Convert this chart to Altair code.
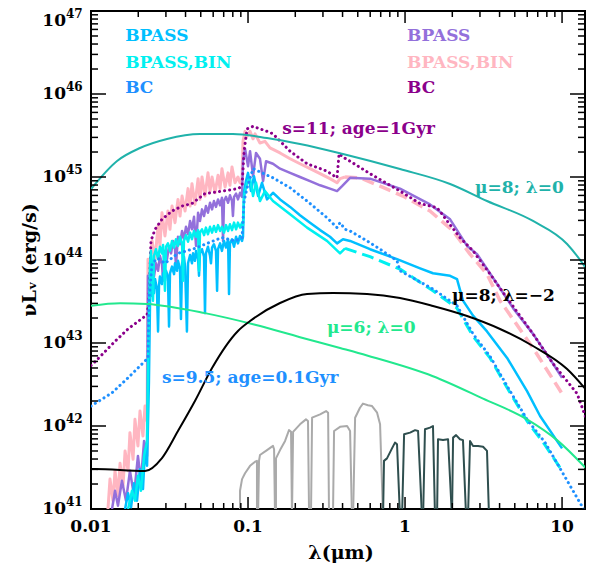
import altair as alt
import pandas as pd
import numpy as np

# ---------------- data: log10(lambda/um) and log10(nuLnu / erg s^-1) ----------------
# model curves
teal_loglam = [-2.0, -1.834, -1.688, -1.516, -1.306, -1.096, -0.879, -0.669, -0.395, -0.032, 0.287, 0.522, 0.815, 1.032, 1.134, 1.197]
teal_logL = [44.855, 45.193, 45.349, 45.458, 45.518, 45.518, 45.470, 45.398, 45.277, 45.096, 44.916, 44.711, 44.470, 44.193, 43.95, 43.771]

green_loglam = [-2.0, -1.815, -1.643, -1.274, -0.955, -0.669, -0.414, -0.242, 0.178, 0.497, 0.777, 0.968, 1.197]
green_logL = [43.45, 43.48, 43.47, 43.36, 43.22, 43.07, 42.94, 42.85, 42.60, 42.33, 42.08, 41.83, 41.40]

black_loglam = [-2.0, -1.975, -1.656, -1.548, -1.446, -1.338, -1.229, -1.064, -0.987, -0.796, -0.624, -0.459, -0.242, -0.032, 0.178, 0.395, 0.605, 0.815, 1.032, 1.197]
black_logL = [41.482, 41.482, 41.458, 41.614, 41.940, 42.301, 42.699, 43.145, 43.265, 43.482, 43.590, 43.602, 43.590, 43.542, 43.446, 43.325, 43.169, 42.964, 42.687, 42.337]

# s=11; age=1Gyr  -- BPASS,BIN (pink)
pink_loglam = [-1.892, -1.879, -1.860, -1.847, -1.828, -1.815, -1.796, -1.783, -1.764, -1.752, -1.732, -1.720, -1.701, -1.688, -1.669, -1.656, -1.643,
               -1.637, -1.624, -1.611, -1.592, -1.573, -1.561, -1.548, -1.529, -1.510, -1.497, -1.484, -1.465, -1.446, -1.433, -1.420, -1.401,
               -1.382, -1.369, -1.357, -1.338, -1.318, -1.306, -1.293, -1.274, -1.255, -1.242, -1.229, -1.210, -1.191, -1.178, -1.166, -1.146,
               -1.127, -1.115, -1.102, -1.083, -1.064, -1.051, -1.038, -1.032, -1.019, -1.006, -0.987, -0.968, -0.955, -0.924, -0.892, -0.860,
               -0.796, -0.732, -0.669, -0.605, -0.541, -0.478, -0.433, -0.414, -0.382, -0.287, -0.159, -0.013, 0.159, 0.306, 0.414, 0.522,
               0.605, 0.815, 1.0]
pink_logL = [41.00, 41.36, 41.10, 41.46, 41.16, 41.55, 41.28, 41.70, 41.46, 41.92, 41.60, 42.08, 41.76, 42.18, 41.88, 42.24, 42.06,
             44.01, 43.93, 44.23, 44.01, 44.41, 44.17, 44.57, 44.29, 44.59, 44.37, 44.65, 44.45, 44.73, 44.53, 44.77, 44.59,
             44.86, 44.65, 44.92, 44.67, 44.98, 44.73, 45.00, 44.77, 45.05, 44.83, 45.00, 44.81, 45.02, 44.86, 45.10, 44.88,
             45.05, 44.90, 45.12, 44.93, 45.00, 44.93, 44.98, 45.43, 45.55, 45.49, 45.55, 45.46, 45.52, 45.41, 45.43, 45.35,
             45.29, 45.22, 45.16, 45.10, 45.04, 44.98, 44.93, 44.98, 45.00, 44.99, 44.89, 44.77, 44.59, 44.35, 44.07, 43.83,
             43.51, 42.94, 42.39]

# s=11; age=1Gyr  -- BPASS (mediumpurple)
mpur_loglam = [-1.866, -1.847, -1.828, -1.803, -1.777, -1.752, -1.726, -1.701, -1.682, -1.662, -1.643,
               -1.637, -1.624, -1.611, -1.599, -1.586, -1.573, -1.561, -1.548, -1.541, -1.529,
               -1.516, -1.503, -1.490, -1.478, -1.465, -1.459, -1.446, -1.433, -1.420, -1.408,
               -1.395, -1.382, -1.369, -1.357, -1.344, -1.331, -1.318, -1.306, -1.293, -1.280,
               -1.268, -1.255, -1.242, -1.229, -1.217, -1.204, -1.191, -1.178, -1.166, -1.159,
               -1.153, -1.140, -1.127, -1.115, -1.102, -1.096, -1.089, -1.076, -1.064, -1.051, -1.038,
               -1.032, -1.019, -1.000, -0.987, -0.968, -0.949, -0.924, -0.904, -0.885, -0.841, -0.796, -0.732,
               -0.669, -0.605, -0.541, -0.478, -0.433, -0.401, -0.350, -0.223, -0.032, 0.159, 0.287, 0.395,
               0.459, 0.605, 0.688, 0.815, 0.943, 1.0]
mpur_logL = [41.00, 41.22, 41.04, 41.34, 41.10, 41.46, 41.16, 41.64, 41.34, 41.82, 41.64,
             43.81, 43.72, 43.89, 43.80, 43.96, 43.87, 44.05, 43.95, 43.75, 44.11,
             44.01, 44.17, 44.08, 44.23, 44.13, 43.93, 44.28, 44.19, 44.35, 44.25,
             44.40, 44.31, 44.47, 44.37, 44.52, 44.17, 44.57, 44.47, 44.61, 44.53,
             44.65, 44.57, 44.69, 44.61, 44.71, 44.64, 44.73, 44.66, 44.75, 44.23,
             44.71, 44.76, 44.69, 44.78, 44.71, 44.53, 44.76, 44.80, 44.73, 44.81, 44.76,
             45.19, 45.34, 45.13, 45.31, 45.01, 45.29, 45.22, 44.95, 45.19, 45.16, 45.10, 45.05,
             45.00, 44.95, 44.90, 44.86, 44.83, 44.89, 44.99, 44.98, 44.86, 44.67, 44.49, 44.17,
             44.07, 43.66, 43.42, 43.11, 42.75, 42.58]

# s=11; age=1Gyr  -- BC (purple, dotted)
pbc_loglam = [-2.0, -1.987, -1.847, -1.764, -1.643, -1.631, -1.618, -1.592, -1.548, -1.484, -1.420, -1.357, -1.274, -1.166, -1.064,
              -1.038, -1.025, -1.006, -0.968, -0.879, -0.841, -0.732, -0.624, -0.497, -0.433, -0.420, -0.395, -0.350, -0.223,
              -0.032, 0.096, 0.204, 0.350, 0.433, 0.561, 0.605, 0.815, 0.943, 1.096, 1.159, 1.2]
pbc_logL = [42.73, 42.75, 43.02, 43.17, 43.34, 43.51, 44.23, 44.37, 44.49, 44.59, 44.65, 44.68, 44.80, 44.83, 44.86,
            44.89, 45.31, 45.58, 45.61, 45.55, 45.52, 45.31, 45.16, 45.07, 44.99, 45.28, 45.24, 45.19, 45.04,
            44.83, 44.68, 44.63, 44.27, 44.11, 43.78, 43.66, 43.11, 42.75, 42.39, 42.06, 41.90]

# s=9.5; age=0.1Gyr -- BPASS (deepskyblue)
dsb_loglam = [-1.783, -1.764, -1.745, -1.726, -1.707, -1.688, -1.669, -1.656, -1.643, -1.631,
              -1.624, -1.618, -1.611, -1.605, -1.599, -1.592, -1.580, -1.573, -1.567, -1.561,
              -1.548, -1.541, -1.529, -1.522, -1.510, -1.503, -1.497, -1.484, -1.471, -1.465,
              -1.452, -1.446, -1.433, -1.427, -1.420, -1.408, -1.401, -1.389, -1.382, -1.369,
              -1.357, -1.350, -1.338, -1.331, -1.318, -1.312, -1.306, -1.293, -1.280, -1.274,
              -1.268, -1.255, -1.242, -1.236, -1.229, -1.217, -1.204, -1.197, -1.191, -1.178,
              -1.166, -1.153, -1.140, -1.127, -1.121, -1.115, -1.102, -1.089, -1.076, -1.064,
              -1.051, -1.038, -1.032,
              -1.025, -1.013, -1.000, -0.981, -0.962, -0.936, -0.911, -0.879, -0.841, -0.796,
              -0.732, -0.669, -0.605, -0.541, -0.478, -0.433, -0.395, -0.350, -0.223, -0.051,
              0.096, 0.178, 0.287, 0.331, 0.369, 0.433, 0.522, 0.650, 0.777, 0.860, 1.0]
dsb_logL = [41.00, 41.19, 41.02, 41.31, 41.10, 41.48, 41.24, 41.72, 41.52, 42.54,
            43.51, 43.69, 43.57, 43.75, 43.60, 43.77, 43.65, 43.14, 43.69, 43.80,
            43.71, 43.84, 43.75, 43.87, 43.80, 43.20, 43.84, 43.92, 43.83, 43.96,
            43.87, 43.99, 43.89, 43.29, 43.96, 44.04, 43.92, 43.14, 43.96, 44.06,
            43.96, 44.08, 43.99, 44.11, 44.01, 43.81, 44.08, 44.13, 44.04, 43.36,
            44.08, 44.16, 44.05, 43.96, 44.15, 44.19, 44.11, 43.63, 44.13, 44.20,
            44.11, 44.23, 44.15, 44.25, 43.59, 44.20, 44.25, 44.16, 44.28, 44.20,
            44.29, 44.23, 44.28,
            44.83, 44.95, 45.05, 44.83, 45.01, 44.77, 44.93, 44.73, 44.81, 44.73,
            44.64, 44.54, 44.45, 44.36, 44.28, 44.20, 44.25, 44.23, 44.13, 44.01,
            43.90, 43.84, 43.81, 43.77, 43.51, 43.33, 43.14, 42.82, 42.42, 42.12, 41.73]

# s=9.5; age=0.1Gyr -- BPASS,BIN (cyan)
cyan_loglam = [-1.764, -1.739, -1.720, -1.701, -1.682, -1.662, -1.643, -1.637,
               -1.624, -1.618, -1.605, -1.599, -1.586, -1.573, -1.561, -1.548, -1.541, -1.529,
               -1.522, -1.510, -1.497, -1.484, -1.471, -1.459, -1.446, -1.433, -1.420, -1.414,
               -1.408, -1.395, -1.382, -1.369, -1.357, -1.344, -1.331, -1.318, -1.312, -1.306,
               -1.293, -1.280, -1.268, -1.255, -1.242, -1.229, -1.217, -1.204, -1.191, -1.178,
               -1.166, -1.153, -1.140, -1.127, -1.115, -1.102, -1.089, -1.076, -1.064, -1.051,
               -1.038, -1.032,
               -1.025, -1.006, -0.987, -0.968, -0.949, -0.924, -0.892, -0.841, -0.732, -0.624,
               -0.497, -0.414, -0.382, -0.223, -0.032, 0.178, 0.331, 0.433, 0.541, 0.669,
               0.777, 0.892, 1.0]
cyan_logL = [41.00, 41.22, 41.10, 41.40, 41.22, 41.64, 41.82, 42.78,
             43.96, 44.11, 43.51, 44.05, 44.13, 44.01, 44.16, 44.08, 44.18, 43.63,
             44.16, 44.20, 44.11, 44.23, 44.15, 44.25, 44.17, 44.28, 44.19, 43.75,
             44.23, 44.30, 44.22, 44.33, 44.25, 44.35, 44.28, 44.36, 43.87, 44.33,
             44.37, 44.30, 44.39, 44.31, 44.40, 44.33, 44.41, 44.34, 44.42, 44.35,
             44.40, 44.33, 44.42, 44.35, 44.43, 44.36, 44.45, 44.37, 44.45, 44.39,
             44.45, 44.42,
             44.77, 44.93, 44.98, 44.77, 44.93, 44.71, 44.83, 44.71, 44.55, 44.39,
             44.23, 44.08, 44.14, 44.04, 43.89, 43.63, 43.42, 43.08, 42.82, 42.40,
             42.06, 41.77, 41.46]

# s=9.5; age=0.1Gyr -- BC (dodgerblue, dotted)
dbc_loglam = [-2.0, -1.975, -1.866, -1.764, -1.637, -1.631, -1.611, -1.573, -1.529, -1.446, -1.338, -1.274, -1.166, -1.083,
              -1.038, -1.025, -1.006, -0.968, -0.841, -0.732, -0.624, -0.497, -0.433, -0.414, -0.382, -0.350, -0.242, -0.159,
              -0.051, -0.032, 0.178, 0.331, 0.433, 0.541, 0.669, 0.777, 0.892, 0.987, 1.134, 1.197]
dbc_logL = [42.24, 42.27, 42.40, 42.58, 42.82, 43.51, 43.96, 44.02, 43.96, 44.08, 44.14, 44.19, 44.27, 44.23,
            44.27, 44.71, 44.87, 45.10, 44.99, 44.87, 44.71, 44.51, 44.39, 44.45, 44.37, 44.35, 44.23, 44.13,
            43.99, 43.87, 43.65, 43.45, 43.11, 42.84, 42.42, 42.08, 41.80, 41.49, 41.01, 40.80]

# BPASS,BIN spectra are drawn solid in the noisy UV part and dashed redward of this wavelength
BIN_DASH_FROM = -0.382

# filter transmission curves (scaled), gray = optical, dark = near-IR
gray_filters = [
    ([-1.051, -1.051, -1.038, -1.019, -0.987, -0.955, -0.943, -0.943], [40.9, 41.22, 41.36, 41.43, 41.52, 41.57, 41.58, 40.9]),
    ([-0.936, -0.930, -0.924, -0.879, -0.841, -0.834, -0.828], [40.9, 41.58, 41.65, 41.71, 41.76, 41.72, 40.9]),
    ([-0.822, -0.822, -0.796, -0.764, -0.739, -0.726, -0.720], [40.9, 41.61, 41.71, 41.82, 41.95, 41.93, 40.9]),
    ([-0.720, -0.713, -0.669, -0.631, -0.618, -0.611], [40.9, 41.93, 42.02, 42.08, 42.06, 40.9]),
    ([-0.599, -0.592, -0.541, -0.503, -0.490, -0.484], [40.9, 42.10, 42.14, 42.18, 42.16, 40.9]),
    ([-0.459, -0.452, -0.414, -0.369, -0.350, -0.338], [40.9, 41.94, 41.99, 42.00, 41.94, 40.9]),
    ([-0.331, -0.318, -0.287, -0.268, -0.236, -0.210, -0.178, -0.159, -0.140], [40.9, 42.10, 42.22, 42.27, 42.25, 42.24, 42.16, 42.02, 40.9]),
]
dark_filters = [
    ([-0.140, -0.134, -0.115, -0.083, -0.064, -0.051, -0.032], [40.9, 41.58, 41.61, 41.73, 41.80, 41.78, 40.9]),
    ([-0.019, -0.006, 0.032, 0.064, 0.083, 0.108], [40.9, 41.90, 41.92, 41.95, 41.94, 40.9]),
    ([0.115, 0.127, 0.159, 0.178, 0.191], [40.9, 41.96, 41.98, 42.00, 40.9]),
    ([0.204, 0.210, 0.242, 0.274, 0.299], [40.9, 41.84, 41.83, 41.84, 40.9]),
    ([0.299, 0.306, 0.325, 0.350, 0.369, 0.389], [40.9, 41.86, 41.89, 41.84, 41.83, 40.9]),
    ([0.401, 0.414, 0.433, 0.465, 0.497, 0.522, 0.535], [40.9, 41.82, 41.76, 41.76, 41.75, 41.70, 40.9]),
]

# axis ticks / labels
x_major = [0.01, 0.1, 1, 10]
x_major_labels = ["0.01", "0.1", "1", "10"]
x_minor = [0.02, 0.03, 0.04, 0.05, 0.06, 0.07, 0.08, 0.09, 0.2, 0.3, 0.4, 0.5, 0.6, 0.7, 0.8, 0.9,
           2, 3, 4, 5, 6, 7, 8, 9]
y_major = [1e41, 1e42, 1e43, 1e44, 1e45, 1e46, 1e47]
y_major_base = ["10", "10", "10", "10", "10", "10", "10"]
y_major_exp = ["41", "42", "43", "44", "45", "46", "47"]
y_minor_mult = [2, 3, 4, 5, 6, 7, 8, 9]
y_minor_exp = [41, 42, 43, 44, 45, 46]
y_minor = [m * 10.0 ** e for e in y_minor_exp for m in y_minor_mult]

# annotations: text, lambda (um), nuLnu, colour
ann_text = ["BPASS", "BPASS,BIN", "BC", "BPASS", "BPASS,BIN", "BC",
            "s=11; age=1Gyr", "μ=8; λ=0", "μ=8; λ=−2", "μ=6; λ=0", "s=9.5; age=0.1Gyr"]
ann_lam = [0.0165, 0.0165, 0.0165, 1.03, 1.03, 1.03, 0.165, 2.79, 1.99, 0.318, 0.0283]
ann_L = [5.0e46, 2.36e46, 1.18e46, 5.0e46, 2.36e46, 1.18e46, 3.78e45, 7.36e44, 3.68e43, 1.52e43, 3.8e42]
ann_color = ["#00BFFF", "#00F0F0", "#1E90FF", "#9370DB", "#FFB6C1", "#8B008B",
             "#8B008B", "#20B2AA", "#000000", "#22E88E", "#1E90FF"]

# ---------------- chart ----------------
W, H = 494, 498
FONT = "DejaVu Serif"
WEIGHT = "bold"
XS = alt.Scale(type="log", domain=[0.01, 14.0], nice=False)
YS = alt.Scale(type="log", domain=[1e41, 1e47], nice=False)


def frame(loglam, logL, group=0):
    return pd.DataFrame({"lam": 10 ** np.array(loglam, dtype=float),
                         "L": 10 ** np.array(logL, dtype=float),
                         "i": np.arange(len(loglam)),
                         "g": group})


def line(df, color, width, dash=None, interp="linear", cap="butt"):
    kw = dict(color=color, strokeWidth=width, clip=True, interpolate=interp, strokeCap=cap, strokeJoin="round")
    if dash is not None:
        kw["strokeDash"] = dash
    return alt.Chart(df).mark_line(**kw).encode(
        x=alt.X("lam:Q", scale=XS, axis=None),
        y=alt.Y("L:Q", scale=YS, axis=None),
        detail="g:N",
        order="i:Q",
    )


def split(loglam, logL, cut):
    a = [(x, y) for x, y in zip(loglam, logL) if x <= cut]
    b = [(x, y) for x, y in zip(loglam, logL) if x >= cut]
    return frame(*zip(*a)), frame(*zip(*b))


gray_df = pd.concat([frame(a, b, k) for k, (a, b) in enumerate(gray_filters)])
dark_df = pd.concat([frame(a, b, k) for k, (a, b) in enumerate(dark_filters)])

pink_uv, pink_opt = split(pink_loglam, pink_logL, BIN_DASH_FROM)
cyan_uv, cyan_opt = split(cyan_loglam, cyan_logL, BIN_DASH_FROM)

DOT = [0.1, 5]
layers = [
    line(gray_df, "#AAAAAA", 2),
    line(dark_df, "#2F4F4F", 2),
    line(pink_uv, "#FFB6C1", 3),
    line(pink_opt, "#FFB6C1", 3.5, dash=[12, 6]),
    line(frame(mpur_loglam, mpur_logL), "#9370DB", 2.5),
    line(frame(pbc_loglam, pbc_logL), "#8B008B", 3, dash=DOT, cap="round"),
    line(frame(dsb_loglam, dsb_logL), "#00BFFF", 2.5),
    line(cyan_uv, "#00F0F0", 2.5),
    line(cyan_opt, "#00F0F0", 3, dash=[12, 6]),
    line(frame(dbc_loglam, dbc_logL), "#1E90FF", 3, dash=DOT, cap="round"),
    line(frame(teal_loglam, teal_logL), "#20B2AA", 2, interp="monotone"),
    line(frame(green_loglam, green_logL), "#22E88E", 2, interp="monotone"),
    line(frame(black_loglam, black_logL), "#000000", 2, interp="monotone"),
]

# inward ticks on all four sides
xmaj = pd.DataFrame({"v": x_major})
xmin = pd.DataFrame({"v": x_minor})
ymaj = pd.DataFrame({"v": y_major})
ymin = pd.DataFrame({"v": y_minor})


def xticks(df, length):
    b = alt.Chart(df).mark_rule(color="black", strokeWidth=1.5).encode(
        x=alt.X("v:Q", scale=XS, axis=None), y=alt.value(H), y2=alt.value(H - length))
    t = alt.Chart(df).mark_rule(color="black", strokeWidth=1.5).encode(
        x=alt.X("v:Q", scale=XS, axis=None), y=alt.value(0), y2=alt.value(length))
    return [b, t]


def yticks(df, length):
    l = alt.Chart(df).mark_rule(color="black", strokeWidth=1.5).encode(
        y=alt.Y("v:Q", scale=YS, axis=None), x=alt.value(0), x2=alt.value(length))
    r = alt.Chart(df).mark_rule(color="black", strokeWidth=1.5).encode(
        y=alt.Y("v:Q", scale=YS, axis=None), x=alt.value(W), x2=alt.value(W - length))
    return [l, r]


layers += xticks(xmaj, 12) + xticks(xmin, 6) + yticks(ymaj, 15) + yticks(ymin, 7)

# tick labels
xlab = pd.DataFrame({"v": x_major, "t": x_major_labels})
ylab = pd.DataFrame({"v": y_major, "b": y_major_base, "e": y_major_exp})
layers.append(alt.Chart(xlab).mark_text(font=FONT, fontSize=17, fontWeight=WEIGHT, baseline="middle", align="center").encode(
    x=alt.X("v:Q", scale=XS, axis=None), y=alt.value(H + 18), text="t:N"))
for part, dy_extra in ((ylab.iloc[:-1], 0), (ylab.iloc[-1:], 10)):
    layers.append(alt.Chart(part).mark_text(font=FONT, fontSize=17, fontWeight=WEIGHT, baseline="middle",
                                            align="right", dy=dy_extra).encode(
        y=alt.Y("v:Q", scale=YS, axis=None), x=alt.value(-25), text="b:N"))
    layers.append(alt.Chart(part).mark_text(font=FONT, fontSize=12, fontWeight=WEIGHT, baseline="middle",
                                            align="left", dy=dy_extra - 7).encode(
        y=alt.Y("v:Q", scale=YS, axis=None), x=alt.value(-25), text="e:N"))

# axis titles
layers.append(alt.Chart(pd.DataFrame({"t": ["λ(μm)"]})).mark_text(
    font=FONT, fontSize=19, fontWeight=WEIGHT, baseline="middle", align="center").encode(
    x=alt.value(W / 2 + 3), y=alt.value(H + 44), text="t:N"))
layers.append(alt.Chart(pd.DataFrame({"t": ["νLᵥ (erg/s)"]})).mark_text(
    font=FONT, fontSize=19, fontWeight=WEIGHT, baseline="middle", align="center", angle=270).encode(
    x=alt.value(-61), y=alt.value(H / 2), text="t:N"))

# annotations
ann = pd.DataFrame({"t": ann_text, "lam": ann_lam, "L": ann_L, "c": ann_color})
layers.append(alt.Chart(ann).mark_text(font=FONT, fontSize=17, fontWeight=WEIGHT, baseline="middle", align="left").encode(
    x=alt.X("lam:Q", scale=XS, axis=None),
    y=alt.Y("L:Q", scale=YS, axis=None),
    text="t:N",
    color=alt.Color("c:N", scale=None),
))

chart = alt.layer(*layers).properties(
    width=W, height=H,
    autosize=alt.AutoSizeParams(type="none"),
    padding={"left": 83, "top": 3, "right": 1, "bottom": 54},
).configure_view(stroke="black", strokeWidth=2)

chart.save("out.html", embed_options={"renderer": "svg", "actions": False})
